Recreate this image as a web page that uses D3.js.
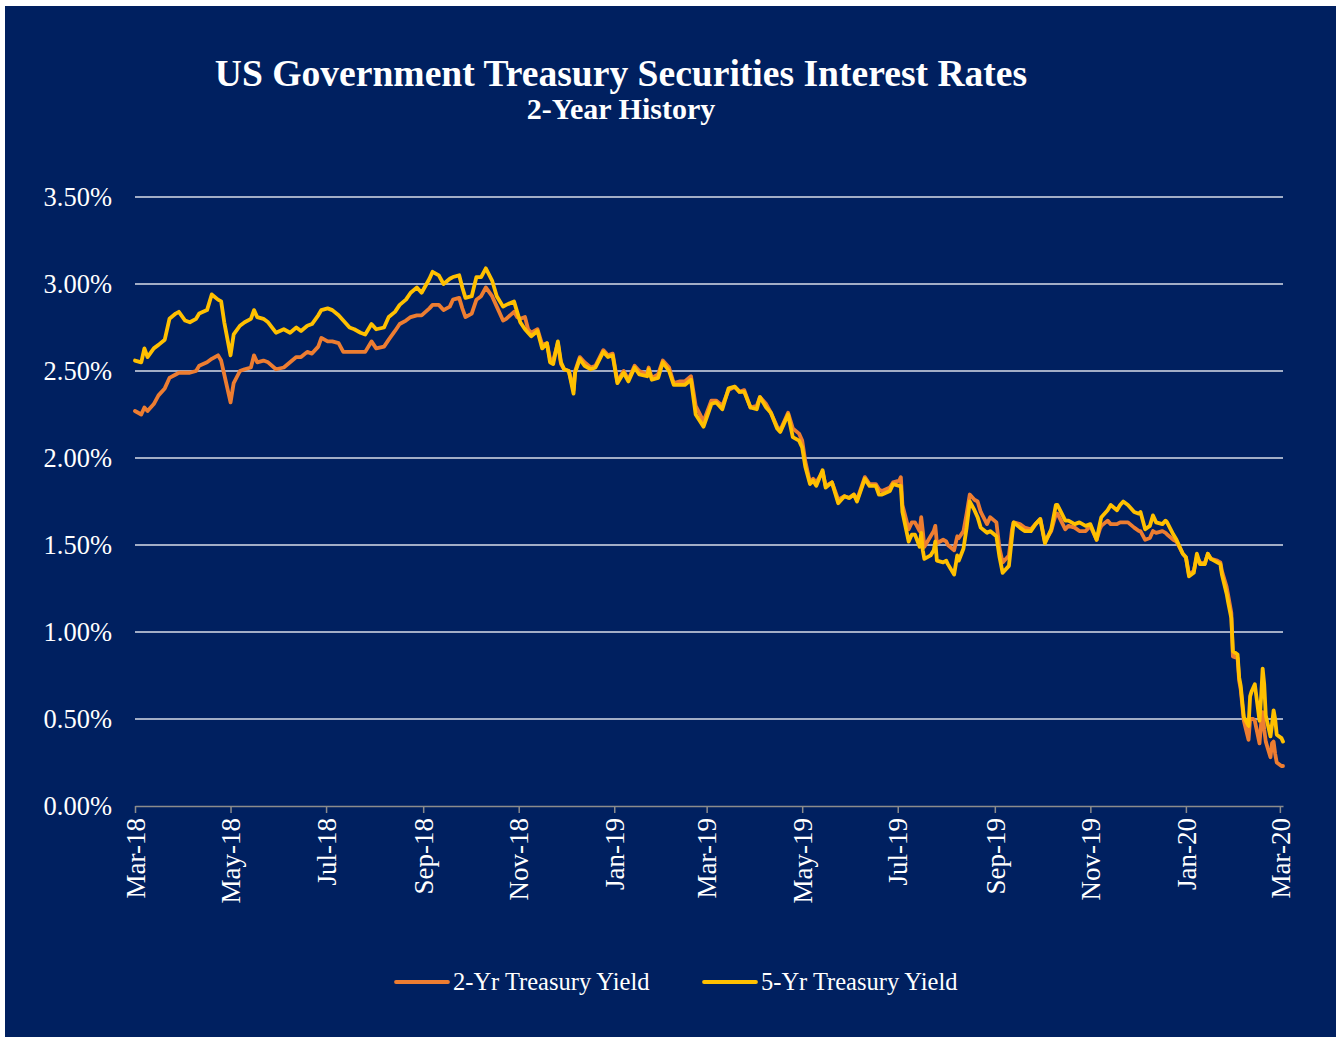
<!DOCTYPE html>
<html>
<head>
<meta charset="utf-8">
<script src="https://cdn.jsdelivr.net/npm/d3@7"></script>
<style>
  html, body { margin: 0; padding: 0; background: #ffffff; }
  svg { display: block; }
  text { font-family: "Liberation Serif", "Times New Roman", serif; fill: #ffffff; }
</style>
</head>
<body>
<svg id="chart" width="1340" height="1041"></svg>
<script>
// Trading dates (sampled) and yields in percent
const dates = [
  "2018-03-29","2018-04-02","2018-04-04","2018-04-06","2018-04-10","2018-04-13","2018-04-17","2018-04-20","2018-04-24","2018-04-26",
  "2018-04-30","2018-05-03","2018-05-07","2018-05-09","2018-05-14","2018-05-17","2018-05-21","2018-05-23","2018-05-25","2018-05-29",
  "2018-05-31","2018-06-04","2018-06-07","2018-06-11","2018-06-13","2018-06-15","2018-06-19","2018-06-22","2018-06-27","2018-07-02",
  "2018-07-06","2018-07-10","2018-07-13","2018-07-17","2018-07-20","2018-07-24","2018-07-26","2018-07-30","2018-08-02","2018-08-06",
  "2018-08-09","2018-08-13","2018-08-16","2018-08-20","2018-08-23","2018-08-27","2018-08-30","2018-09-04","2018-09-07","2018-09-11",
  "2018-09-14","2018-09-18","2018-09-21","2018-09-25","2018-09-28","2018-10-03","2018-10-05","2018-10-09","2018-10-12","2018-10-16",
  "2018-10-18","2018-10-22","2018-10-24","2018-10-26","2018-10-30","2018-11-02","2018-11-05","2018-11-08","2018-11-12","2018-11-15",
  "2018-11-19","2018-11-21","2018-11-26","2018-11-28","2018-11-30","2018-12-03","2018-12-05","2018-12-07","2018-12-11","2018-12-14",
  "2018-12-17","2018-12-19","2018-12-21","2018-12-24","2018-12-26","2018-12-28","2018-12-31","2019-01-03","2019-01-04","2019-01-07",
  "2019-01-10","2019-01-14","2019-01-17","2019-01-22","2019-01-25","2019-01-28","2019-01-31","2019-02-04","2019-02-07","2019-02-11",
  "2019-02-14","2019-02-19","2019-02-20","2019-02-22","2019-02-26","2019-03-01","2019-03-05","2019-03-08","2019-03-12","2019-03-15",
  "2019-03-19","2019-03-22","2019-03-27","2019-04-01","2019-04-04","2019-04-08","2019-04-12","2019-04-16","2019-04-19","2019-04-22",
  "2019-04-26","2019-04-30","2019-05-02","2019-05-06","2019-05-09","2019-05-13","2019-05-15","2019-05-20","2019-05-23","2019-05-27",
  "2019-05-29","2019-05-31","2019-06-03","2019-06-05","2019-06-07","2019-06-11","2019-06-13","2019-06-17","2019-06-21","2019-06-25",
  "2019-06-28","2019-07-01","2019-07-03","2019-07-08","2019-07-11","2019-07-15","2019-07-17","2019-07-19","2019-07-24","2019-07-26",
  "2019-07-30","2019-07-31","2019-08-01","2019-08-05","2019-08-07","2019-08-09","2019-08-12","2019-08-13","2019-08-14","2019-08-15",
  "2019-08-19","2019-08-21","2019-08-22","2019-08-23","2019-08-27","2019-08-29","2019-08-30","2019-09-03","2019-09-05","2019-09-06",
  "2019-09-09","2019-09-11","2019-09-13","2019-09-16","2019-09-18","2019-09-20","2019-09-24","2019-09-26","2019-09-30","2019-10-02",
  "2019-10-04","2019-10-08","2019-10-10","2019-10-11","2019-10-15","2019-10-18","2019-10-22","2019-10-25","2019-10-28","2019-10-31",
  "2019-11-04","2019-11-07","2019-11-08","2019-11-13","2019-11-15","2019-11-19","2019-11-22","2019-11-26","2019-11-29","2019-12-03",
  "2019-12-05","2019-12-06","2019-12-10","2019-12-12","2019-12-16","2019-12-18","2019-12-20","2019-12-23","2019-12-27","2019-12-30",
  "2019-12-31","2020-01-03","2020-01-06","2020-01-08","2020-01-10","2020-01-14","2020-01-16","2020-01-17","2020-01-21","2020-01-23",
  "2020-01-27","2020-01-29","2020-01-31","2020-02-03","2020-02-05","2020-02-07","2020-02-10","2020-02-12","2020-02-14","2020-02-18",
  "2020-02-20","2020-02-21","2020-02-24","2020-02-25","2020-02-27","2020-02-28","2020-03-02","2020-03-03","2020-03-04","2020-03-06",
  "2020-03-09","2020-03-10","2020-03-11","2020-03-12","2020-03-13","2020-03-16","2020-03-17","2020-03-18","2020-03-19","2020-03-20",
  "2020-03-23","2020-03-24","2020-03-25","2020-03-26","2020-03-27","2020-03-30","2020-03-31"
];

const twoYear = [
  2.27,2.25,2.29,2.27,2.31,2.36,2.40,2.46,2.48,2.49,
  2.49,2.49,2.50,2.53,2.55,2.57,2.59,2.56,2.48,2.32,
  2.43,2.50,2.51,2.52,2.59,2.55,2.56,2.55,2.51,2.52,
  2.55,2.58,2.58,2.61,2.60,2.64,2.69,2.67,2.67,2.66,
  2.61,2.61,2.61,2.61,2.61,2.67,2.63,2.64,2.68,2.73,
  2.77,2.79,2.81,2.82,2.82,2.86,2.88,2.88,2.85,2.87,
  2.91,2.92,2.86,2.81,2.83,2.91,2.93,2.98,2.93,2.87,
  2.79,2.80,2.84,2.81,2.80,2.81,2.74,2.72,2.74,2.65,
  2.66,2.57,2.56,2.66,2.54,2.51,2.50,2.39,2.50,2.58,
  2.55,2.52,2.53,2.62,2.59,2.60,2.44,2.50,2.45,2.53,
  2.50,2.48,2.52,2.46,2.48,2.56,2.52,2.43,2.44,2.44,
  2.47,2.30,2.21,2.33,2.33,2.30,2.39,2.41,2.38,2.39,
  2.29,2.30,2.35,2.31,2.26,2.18,2.16,2.26,2.17,2.14,
  2.10,1.98,1.86,1.88,1.86,1.92,1.84,1.86,1.76,1.78,
  1.77,1.79,1.76,1.89,1.85,1.85,1.82,1.81,1.83,1.86,
  1.87,1.89,1.73,1.59,1.63,1.63,1.58,1.66,1.58,1.49,
  1.55,1.58,1.61,1.51,1.53,1.52,1.50,1.47,1.55,1.54,
  1.58,1.68,1.79,1.76,1.75,1.69,1.62,1.66,1.63,1.48,
  1.40,1.44,1.59,1.63,1.62,1.60,1.59,1.62,1.65,1.52,
  1.58,1.68,1.68,1.59,1.61,1.60,1.58,1.58,1.61,1.53,
  1.59,1.61,1.64,1.62,1.62,1.63,1.63,1.63,1.60,1.58,
  1.58,1.53,1.54,1.58,1.57,1.58,1.57,1.56,1.53,1.52,
  1.45,1.43,1.33,1.35,1.43,1.40,1.39,1.45,1.42,1.41,
  1.40,1.35,1.26,1.21,1.11,0.86,0.85,0.72,0.67,0.49,
  0.38,0.50,0.50,0.50,0.49,0.36,0.47,0.54,0.44,0.37,
  0.28,0.36,0.37,0.30,0.25,0.23,0.23
];

const fiveYear = [
  2.56,2.55,2.63,2.58,2.63,2.65,2.68,2.80,2.83,2.84,
  2.79,2.78,2.80,2.83,2.85,2.94,2.91,2.90,2.78,2.59,
  2.71,2.76,2.78,2.80,2.85,2.81,2.80,2.78,2.72,2.74,
  2.72,2.75,2.73,2.76,2.77,2.82,2.85,2.86,2.85,2.82,
  2.79,2.75,2.74,2.72,2.71,2.77,2.74,2.75,2.81,2.84,
  2.88,2.91,2.95,2.98,2.95,3.03,3.07,3.05,3.00,3.03,
  3.04,3.05,2.98,2.92,2.93,3.04,3.04,3.09,3.02,2.93,
  2.87,2.88,2.90,2.84,2.78,2.74,2.72,2.70,2.73,2.63,
  2.66,2.55,2.54,2.67,2.55,2.51,2.50,2.37,2.49,2.57,
  2.53,2.51,2.52,2.61,2.58,2.59,2.43,2.49,2.44,2.52,
  2.48,2.47,2.51,2.45,2.46,2.55,2.50,2.42,2.42,2.42,
  2.45,2.25,2.18,2.31,2.32,2.28,2.40,2.41,2.38,2.38,
  2.29,2.28,2.35,2.29,2.26,2.17,2.15,2.25,2.12,2.10,
  2.06,1.95,1.85,1.87,1.84,1.93,1.83,1.86,1.74,1.78,
  1.77,1.79,1.75,1.88,1.84,1.84,1.79,1.79,1.81,1.85,
  1.84,1.84,1.69,1.52,1.56,1.56,1.49,1.57,1.47,1.42,
  1.44,1.47,1.52,1.41,1.40,1.41,1.39,1.33,1.44,1.41,
  1.48,1.60,1.75,1.70,1.66,1.60,1.57,1.58,1.55,1.43,
  1.34,1.38,1.55,1.63,1.60,1.58,1.58,1.62,1.65,1.51,
  1.59,1.73,1.73,1.64,1.64,1.62,1.63,1.61,1.62,1.53,
  1.62,1.66,1.70,1.73,1.70,1.73,1.75,1.73,1.69,1.68,
  1.69,1.59,1.61,1.67,1.63,1.62,1.64,1.63,1.56,1.53,
  1.45,1.43,1.32,1.34,1.45,1.39,1.39,1.45,1.42,1.40,
  1.39,1.33,1.22,1.17,1.08,0.89,0.87,0.74,0.69,0.51,
  0.46,0.63,0.66,0.68,0.70,0.49,0.62,0.79,0.70,0.52,
  0.40,0.47,0.55,0.50,0.41,0.39,0.37
];

const yTicks = [0, 0.5, 1.0, 1.5, 2.0, 2.5, 3.0, 3.5];
const xTickDates = [
  "2018-03-29","2018-05-29","2018-07-29","2018-09-29","2018-11-29","2019-01-29","2019-03-29",
  "2019-05-29","2019-07-29","2019-09-29","2019-11-29","2020-01-29","2020-03-29"
];
const seriesNames = ["2-Yr Treasury Yield", "5-Yr Treasury Yield"];
const seriesColors = ["#ED7D31", "#FFC000"];
const titleText = "US Government Treasury Securities Interest Rates";
const subtitleText = "2-Year History";

const parse = d3.utcParse("%Y-%m-%d");
const rows = dates.map((d, i) => ({ date: parse(d), two: twoYear[i], five: fiveYear[i] }));

const svg = d3.select("#chart");

// Navy panel inside a thin white margin
svg.append("rect")
  .attr("x", 5).attr("y", 6)
  .attr("width", 1331).attr("height", 1031)
  .attr("fill", "#002060");

const plot = { left: 135, right: 1283, top: 197, bottom: 806 };

const x = d3.scaleUtc()
  .domain([parse("2018-03-29"), parse("2020-03-31")])
  .range([plot.left, plot.right]);

const y = d3.scaleLinear()
  .domain([0, 3.5])
  .range([plot.bottom, plot.top]);

// Titles
svg.append("text")
  .attr("x", 621).attr("y", 86)
  .attr("text-anchor", "middle")
  .style("font-size", "37.6px").style("font-weight", "bold")
  .text(titleText);
svg.append("text")
  .attr("x", 621).attr("y", 119)
  .attr("text-anchor", "middle")
  .style("font-size", "30px").style("font-weight", "bold")
  .text(subtitleText);

// Horizontal gridlines
svg.append("g")
  .selectAll("line")
  .data(yTicks.filter(v => v > 0))
  .join("line")
  .attr("x1", plot.left).attr("x2", plot.right)
  .attr("y1", d => y(d)).attr("y2", d => y(d))
  .attr("stroke", "#D9DDE8").attr("stroke-width", 1.3);

// Y axis labels
const yAxis = d3.axisLeft(y)
  .tickValues(yTicks)
  .tickFormat(d => d3.format(".2f")(d) + "%")
  .tickSize(0)
  .tickPadding(23);
const gy = svg.append("g")
  .attr("transform", `translate(${plot.left},0)`)
  .call(yAxis);
gy.select(".domain").remove();
gy.selectAll("text")
  .style("font-size", "26.5px")
  .style("font-family", "'Liberation Serif', 'Times New Roman', serif")
  .attr("fill", "#ffffff");

// X axis
const xAxis = d3.axisBottom(x)
  .tickValues(xTickDates.map(parse))
  .tickFormat(d3.utcFormat("%b-%y"))
  .tickSize(7)
  .tickSizeOuter(0);
const gx = svg.append("g")
  .attr("transform", `translate(0,${plot.bottom})`)
  .call(xAxis);
gx.select(".domain").attr("stroke", "#8C8C8C").attr("stroke-width", 1.5);
gx.selectAll(".tick line").attr("stroke", "#8C8C8C").attr("stroke-width", 1.5);
gx.selectAll(".tick text")
  .style("font-size", "27px")
  .style("font-family", "'Liberation Serif', 'Times New Roman', serif")
  .attr("fill", "#ffffff")
  .attr("text-anchor", "end")
  .attr("transform", "rotate(-90)")
  .attr("x", -12)
  .attr("y", 0)
  .attr("dy", "0.34em");

// Lines
const line2 = d3.line().x(d => x(d.date)).y(d => y(d.two)).curve(d3.curveLinear);
const line5 = d3.line().x(d => x(d.date)).y(d => y(d.five)).curve(d3.curveLinear);

svg.append("path")
  .datum(rows)
  .attr("d", line2)
  .attr("fill", "none")
  .attr("stroke", seriesColors[0])
  .attr("stroke-width", 3.8)
  .attr("stroke-linejoin", "round")
  .attr("stroke-linecap", "round");

svg.append("path")
  .datum(rows)
  .attr("d", line5)
  .attr("fill", "none")
  .attr("stroke", seriesColors[1])
  .attr("stroke-width", 3.8)
  .attr("stroke-linejoin", "round")
  .attr("stroke-linecap", "round");

// Legend
const legendItems = [
  { name: seriesNames[0], color: seriesColors[0], x: 396 },
  { name: seriesNames[1], color: seriesColors[1], x: 704 }
];
const lg = svg.append("g");
legendItems.forEach(item => {
  lg.append("line")
    .attr("x1", item.x).attr("x2", item.x + 52)
    .attr("y1", 982).attr("y2", 982)
    .attr("stroke", item.color).attr("stroke-width", 3.8)
    .attr("stroke-linecap", "round");
  lg.append("text")
    .attr("x", item.x + 57).attr("y", 990)
    .style("font-size", "24.5px")
    .text(item.name);
});
</script>
</body>
</html>
